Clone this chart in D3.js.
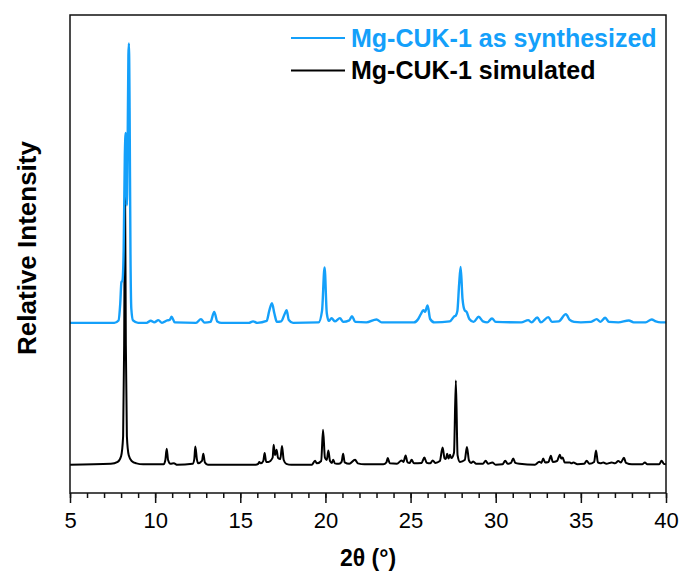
<!DOCTYPE html>
<html>
<head>
<meta charset="utf-8">
<script src="https://cdn.jsdelivr.net/npm/d3@7"></script>
<style>
  body { margin: 0; background: #fff; }
  svg { display: block; }
  .tick text { font-family: "Liberation Sans Narrow", "Liberation Sans", Arial, sans-serif; }
</style>
</head>
<body>
<div id="chart"></div>
<script>
// XRD patterns: 2theta (deg) and intensity above each baseline (a.u.)
var simTheta = [5, 7.4, 7.8, 8.0, 8.12, 8.18, 8.23, 8.28, 8.34, 8.45, 8.62, 8.9, 9.3,
  10.5, 10.6, 10.68, 10.76, 10.9, 11.1, 11.3,
  12.2, 12.3, 12.36, 12.45, 12.52, 12.75, 12.83, 12.92, 13.1,
  15.9, 16.05, 16.12, 16.2, 16.35, 16.43, 16.52, 16.65, 16.9, 16.96, 17.04, 17.13, 17.22, 17.35, 17.45, 17.55, 17.7, 18.0,
  19.2, 19.39, 19.5, 19.75, 19.86, 19.97, 20.08, 20.17, 20.27, 20.38, 20.46, 20.55, 20.8, 20.95, 21.04, 21.13, 21.4, 21.74, 21.9, 22.3,
  23.4, 23.58, 23.66, 23.78, 24.2, 24.47, 24.58, 24.71, 24.82, 24.95, 25.06, 25.2, 25.65, 25.81, 25.95, 26.15, 26.3, 26.45,
  26.72, 26.88, 27.0, 27.07, 27.15, 27.23, 27.31, 27.4, 27.55, 27.66, 27.76, 27.9, 28.18, 28.31, 28.43, 28.55, 28.68, 28.85,
  29.25, 29.41, 29.55, 29.8, 30.0, 30.4, 30.56, 30.7, 30.9, 31.03, 31.15, 31.4,
  32.3, 32.56, 32.68, 32.79, 32.9, 33.1, 33.24, 33.35, 33.6, 33.77, 33.85, 33.93, 34.05, 34.36, 34.45, 34.56, 34.8,
  35.2, 35.34, 35.5, 35.78, 35.89, 36.0, 36.15, 36.32, 36.5, 36.81, 37.0, 37.2, 37.35, 37.53, 37.65, 38.0,
  38.6, 38.76, 38.9, 39.6, 39.74, 39.87, 40];
var simInt = [0, 0.2, 0.6, 1.8, 6, 25, 59, 25, 6, 2, 0.8, 0.3, 0.1,
  0.1, 1, 3.35, 1, 0.2, 0.3, 0,
  0.2, 1.2, 3.83, 1.2, 0.3, 0.8, 2.3, 0.5, 0,
  0, 0.2, 0.56, 0.3, 0.8, 2.45, 0.6, 0.6, 1.5, 4.18, 2.0, 3.14, 1.4, 1.2, 3.91, 1.0, 0.2, 0,
  0, 0.84, 0.3, 0.8, 7.32, 1.5, 1.0, 2.99, 0.8, 0.4, 1.05, 0.3, 0.2, 0.6, 2.3, 0.5, 0.2, 1.05, 0.3, 0.1,
  0.1, 0.5, 1.4, 0.3, 0.2, 0.9, 0.6, 1.95, 0.5, 0.4, 1.05, 0.3, 0.4, 1.53, 0.4, 0.3, 0.9, 0.4,
  0.8, 3.62, 1.3, 1.2, 2.3, 1.3, 2.09, 1.4, 2.5, 17.64, 2.0, 0.6, 1.0, 3.7, 0.9, 0.4, 0.69, 0.2,
  0.2, 0.84, 0.2, 0.48, 0, 0.1, 0.84, 0.2, 0.4, 1.32, 0.4, 0.2,
  0, 0.63, 0.4, 1.32, 0.5, 0.6, 1.88, 0.6, 0.8, 2.09, 1.3, 1.53, 0.5, 0.48, 0.3, 0.48, 0.1,
  0.2, 0.84, 0.2, 0.6, 2.99, 0.5, 0.3, 0.48, 0.2, 0.48, 0.3, 0.77, 0.5, 1.46, 0.4, 0.1,
  0.1, 0.48, 0.1, 0.1, 0.84, 0.2, 0.1];

var synTheta = [5, 7.6, 7.85, 7.95, 8.02, 8.08, 8.15, 8.22, 8.27, 8.31, 8.34, 8.38, 8.43, 8.46, 8.5, 8.55, 8.6, 8.7, 9.0,
  9.5, 9.74, 9.95, 10.19, 10.4, 10.71, 10.85, 10.97, 11.15, 12.4, 12.69, 12.9, 13.25, 13.47, 13.65, 13.9,
  15.5, 15.75, 16.0, 16.55, 16.7, 16.86, 17.0, 17.15, 17.4, 17.6, 17.72, 17.85, 18.1,
  19.6, 19.8, 19.95, 20.08, 20.2, 20.36, 20.55, 20.85, 21.05, 21.4, 21.56, 21.75, 22.4, 23.0, 23.3,
  25.2, 25.45, 25.6, 25.75, 25.85, 26.0, 26.15, 26.4, 27.3, 27.55, 27.66, 27.75, 27.85, 27.94, 28.05, 28.18, 28.29, 28.45, 28.7,
  29.0, 29.25, 29.5, 29.78, 30.0, 31.5, 31.91, 32.1, 32.44, 32.65, 33.09, 33.3, 33.7, 34.12, 34.35, 34.6, 35.0,
  35.6, 35.93, 36.15, 36.43, 36.65, 37.2, 37.82, 38.1, 38.8, 39.16, 39.4, 39.7, 40];
var synInt = [0, 0, 0.5, 4, 8.5, 8.8, 15, 35, 39.7, 30, 24.6, 35, 56, 58.45, 45, 15, 3, 0.5, 0,
  0, 0.42, 0.1, 0.56, 0, 0.5, 0.6, 1.26, 0.1, 0, 0.77, 0.05, 0.2, 2.3, 0.3, 0,
  0, 0.3, 0, 0.4, 2.5, 4.1, 2.0, 0.2, 0.3, 1.8, 2.66, 0.6, 0,
  0.1, 2.5, 11.6, 2.0, 0.4, 0.98, 0.3, 0.98, 0.2, 0.5, 1.4, 0.2, 0.1, 0.71, 0.1,
  0.1, 0.8, 1.8, 2.66, 2.3, 3.64, 0.8, 0.1, 0.3, 1.3, 1.55, 2.5, 8, 11.7, 5, 2.6, 2.3, 0.8, 0.2,
  1.26, 0.3, 0.1, 0.92, 0.2, 0.1, 0.56, 0.1, 1.13, 0.1, 1.19, 0.2, 0.3, 1.82, 0.6, 0.2, 0.1,
  0.2, 0.77, 0.2, 1.05, 0.2, 0.1, 0.5, 0.1, 0.1, 0.71, 0.3, 0.1, 0.1];

var simOffset = 5.9;    // vertical stacking of the two patterns
var synOffset = 35.6;

var seriesNames = ['Mg-CUK-1 as synthesized', 'Mg-CUK-1 simulated'];
var seriesColors = ['#14a0fa', '#000000'];
var majorTicks = [5, 10, 15, 20, 25, 30, 35, 40];

var width = 681, height = 573;
var margin = {left: 70, right: 15, top: 15, bottom: 80};

var svg = d3.select('#chart').append('svg')
    .attr('width', width)
    .attr('height', height);

var x = d3.scaleLinear().domain([5, 40]).range([margin.left, width - margin.right]);
var y = d3.scaleLinear().domain([0, 100]).range([height - margin.bottom, margin.top]);

function toPoints(th, inten, off) {
  return th.map(function(t, i) { return [t, inten[i] + off]; });
}

var line = d3.line()
    .x(function(d) { return x(d[0]); })
    .y(function(d) { return y(d[1]); })
    .curve(d3.curveMonotoneX);

// simulated first so the measured pattern sits on top
svg.append('path')
    .datum(toPoints(simTheta, simInt, simOffset))
    .attr('d', line)
    .attr('fill', 'none')
    .attr('stroke', seriesColors[1])
    .attr('stroke-width', 2)
    .attr('stroke-linejoin', 'round');

svg.append('path')
    .datum(toPoints(synTheta, synInt, synOffset))
    .attr('d', line)
    .attr('fill', 'none')
    .attr('stroke', seriesColors[0])
    .attr('stroke-width', 2.4)
    .attr('stroke-linejoin', 'round');

// frame
svg.append('rect')
    .attr('x', x(5))
    .attr('y', y(100))
    .attr('width', x(40) - x(5))
    .attr('height', y(0) - y(100))
    .attr('fill', 'none')
    .attr('stroke', '#111')
    .attr('stroke-width', 1.5);

// minor ticks
var minor = svg.append('g')
    .attr('transform', 'translate(0,' + y(0) + ')')
    .call(d3.axisBottom(x).tickValues(d3.range(5, 41, 1)).tickSize(5).tickFormat(''));
minor.select('.domain').remove();
minor.selectAll('line').attr('stroke', '#111').attr('stroke-width', 1.5);

var major = svg.append('g')
    .attr('transform', 'translate(0,' + y(0) + ')')
    .call(d3.axisBottom(x).tickValues(majorTicks).tickSize(10).tickPadding(9).tickFormat(d3.format('d')));
major.select('.domain').remove();
major.selectAll('line').attr('stroke', '#111').attr('stroke-width', 1.5);
major.selectAll('text')
    .attr('fill', '#000')
    .style('font-size', '22px');

// axis titles
svg.append('text')
    .attr('x', (x(5) + x(40)) / 2)
    .attr('y', 566)
    .attr('text-anchor', 'middle')
    .style('font-family', 'Liberation Sans, Arial, sans-serif')
    .style('font-weight', 'bold')
    .style('font-size', '23px')
    .text('2θ (°)');

svg.append('text')
    .attr('transform', 'translate(36,' + 248 + ') rotate(-90)')
    .attr('text-anchor', 'middle')
    .style('font-family', 'Liberation Sans, Arial, sans-serif')
    .style('font-weight', 'bold')
    .style('font-size', '26px')
    .text('Relative Intensity');

// legend
var legend = svg.append('g').attr('transform', 'translate(291,38)');
seriesNames.forEach(function(name, i) {
  var row = legend.append('g').attr('transform', 'translate(0,' + (i * 32.5) + ')');
  row.append('line')
      .attr('x1', 0).attr('x2', 54)
      .attr('y1', 0).attr('y2', 0)
      .attr('stroke', seriesColors[i])
      .attr('stroke-width', 2.2);
  row.append('text')
      .attr('x', 60)
      .attr('y', 8.5)
      .attr('fill', seriesColors[i])
      .style('font-family', 'Liberation Sans, Arial, sans-serif')
      .style('font-weight', 'bold')
      .style('font-size', '25px')
      .text(name);
});
</script>
</body>
</html>
